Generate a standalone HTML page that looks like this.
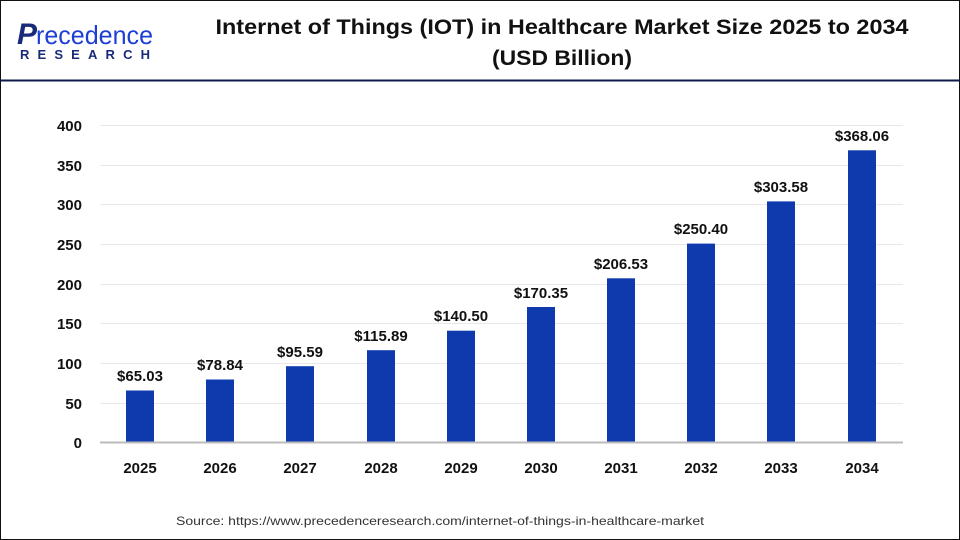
<!DOCTYPE html>
<html><head><meta charset="utf-8"><style>
body{margin:0;background:#fff}
svg{display:block}
</style></head><body>
<svg width="960" height="540" xmlns="http://www.w3.org/2000/svg" font-family="Liberation Sans, Arial, sans-serif">
<rect x="0.5" y="0.5" width="959" height="539" fill="#fff" stroke="#111" stroke-width="1"/>
<line x1="1" y1="80.5" x2="959" y2="80.5" stroke="#0d1a4d" stroke-width="2"/>
<text x="17" y="44" font-size="30" fill="#1a2a7a" font-weight="bold" font-style="italic">P</text>
<text x="36" y="44" font-size="26" fill="#1d3fd6" textLength="117" lengthAdjust="spacingAndGlyphs">recedence</text>
<text x="20" y="59" font-size="13" font-weight="bold" fill="#1a2a7a" textLength="130" lengthAdjust="spacing">RESEARCH</text>
<text x="562" y="34" font-size="21" font-weight="bold" text-anchor="middle" fill="#111" textLength="693" lengthAdjust="spacingAndGlyphs">Internet of Things (IOT) in Healthcare Market Size 2025 to 2034</text>
<text x="562" y="65" font-size="21" font-weight="bold" text-anchor="middle" fill="#111" textLength="140" lengthAdjust="spacingAndGlyphs">(USD Billion)</text>
<g stroke="#e8e8e8" stroke-width="1">
<line x1="100" x2="903" y1="125.5" y2="125.5"/><line x1="100" x2="903" y1="165.5" y2="165.5"/>
<line x1="100" x2="903" y1="204.5" y2="204.5"/><line x1="100" x2="903" y1="244.5" y2="244.5"/>
<line x1="100" x2="903" y1="284.5" y2="284.5"/><line x1="100" x2="903" y1="323.5" y2="323.5"/>
<line x1="100" x2="903" y1="363.5" y2="363.5"/><line x1="100" x2="903" y1="403.5" y2="403.5"/>
</g>
<g font-size="15" font-weight="bold" text-anchor="end" fill="#111">
<text x="82" y="131">400</text><text x="82" y="171">350</text><text x="82" y="210">300</text>
<text x="82" y="250">250</text><text x="82" y="290">200</text><text x="82" y="329">150</text>
<text x="82" y="369">100</text><text x="82" y="409">50</text><text x="82" y="448">0</text>
</g>
<g fill="#0e3aad">
<rect x="126" y="390.5" width="28" height="51.5"/>
<rect x="206" y="379.5" width="28" height="62.5"/>
<rect x="286" y="366.2" width="28" height="75.8"/>
<rect x="367" y="350.2" width="28" height="91.8"/>
<rect x="447" y="330.7" width="28" height="111.3"/>
<rect x="527" y="307" width="28" height="135"/>
<rect x="607" y="278.3" width="28" height="163.7"/>
<rect x="687" y="243.6" width="28" height="198.4"/>
<rect x="767" y="201.4" width="28" height="240.6"/>
<rect x="848" y="150.3" width="28" height="291.7"/>
</g>
<line x1="100" x2="903" y1="442.5" y2="442.5" stroke="#bbb" stroke-width="2"/>
<g font-size="15" font-weight="bold" text-anchor="middle" fill="#111">
<text x="140" y="381">$65.03</text><text x="220" y="370">$78.84</text><text x="300" y="357">$95.59</text>
<text x="381" y="341">$115.89</text><text x="461" y="321">$140.50</text><text x="541" y="298">$170.35</text>
<text x="621" y="269">$206.53</text><text x="701" y="234">$250.40</text><text x="781" y="192">$303.58</text>
<text x="862" y="141">$368.06</text>
<text x="140" y="473">2025</text><text x="220" y="473">2026</text><text x="300" y="473">2027</text>
<text x="381" y="473">2028</text><text x="461" y="473">2029</text><text x="541" y="473">2030</text>
<text x="621" y="473">2031</text><text x="701" y="473">2032</text><text x="781" y="473">2033</text>
<text x="862" y="473">2034</text>
</g>
<text x="440" y="525" font-size="12" text-anchor="middle" fill="#333" textLength="528" lengthAdjust="spacingAndGlyphs">Source: https://www.precedenceresearch.com/internet-of-things-in-healthcare-market</text>
</svg>
</body></html>
